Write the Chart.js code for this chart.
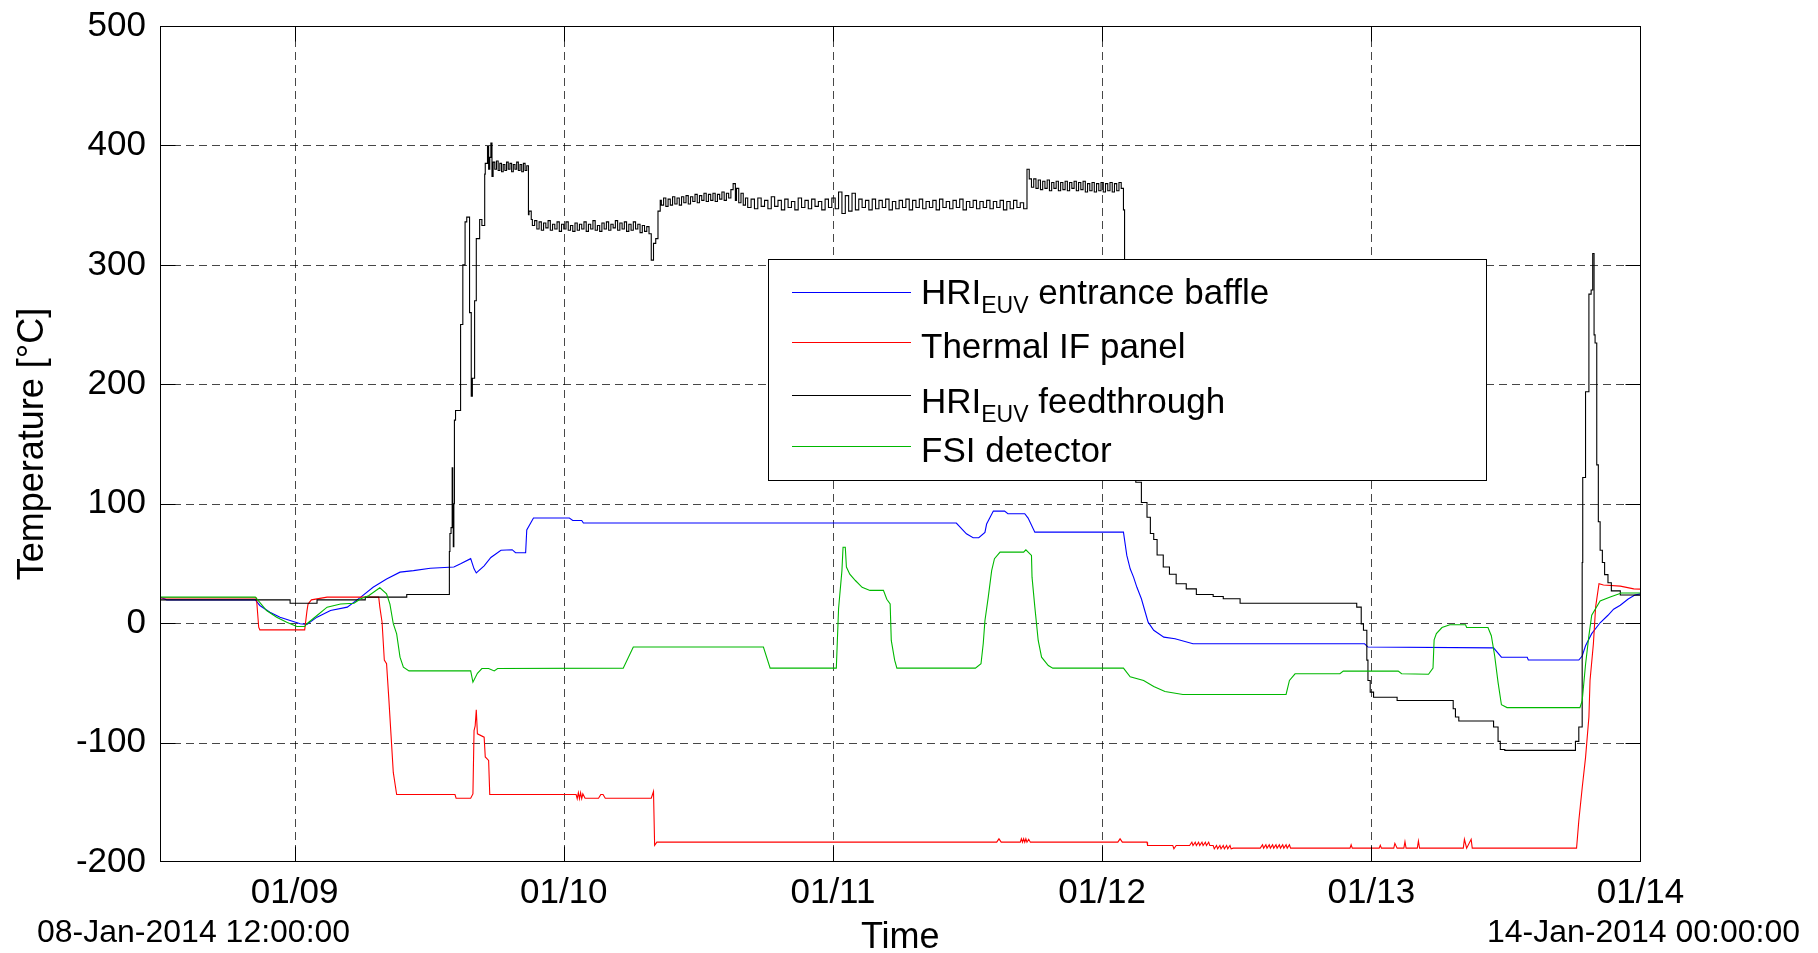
<!DOCTYPE html>
<html>
<head>
<meta charset="utf-8">
<script src="https://cdn.jsdelivr.net/npm/chart.js@4.4.0/dist/chart.umd.min.js"></script>
<style>
html,body{margin:0;padding:0;background:#fff;}
canvas{display:block;}
</style>
</head>
<body>
<canvas id="c" width="1818" height="953"></canvas>
<script>
// ---- axis definitions (hours since 08-Jan-2014 12:00:00) ----
const tickHours  = [12, 36, 60, 84, 108, 132];
const tickLabels = ['01/09', '01/10', '01/11', '01/12', '01/13', '01/14'];
const yTicks     = [-200, -100, 0, 100, 200, 300, 400, 500];
const startLabel = '08-Jan-2014 12:00:00';
const endLabel   = '14-Jan-2014 00:00:00';

// ---- series: [hour, temperature °C] ----
const baffle = [
[0,21.8],[0.6,19.5],[8.5,19.5],[8.9,14.8],[9.8,9.2],[10.7,5],[11.6,2.2],[12.5,-0.5],[13.1,-1],[14.0,5],[15.2,10.6],[16.7,13.4],[17.9,21.8],[19.0,30],[20.2,37],[21.4,42.7],[22.6,44],[24.1,46],[26.2,47],[26.8,49.7],[27.7,54],[28.0,45.5],[28.2,42],[28.9,48],[29.5,55],[30.4,61],[31.4,61.5],[31.7,59],[32.6,59],[32.7,78],[33.3,88],[36.5,88],[36.8,86],[37.6,86],[37.75,83.8],[71.0,83.8],[71.9,74.8],[72.5,71.5],[73.0,71.5],[73.55,76],[73.7,83],[74.3,93.8],[75.3,93.8],[75.6,91.6],[77.1,91.6],[77.4,88],[78.0,76.2],[85.9,76.2],[86.2,56.7],[86.5,45.5],[86.8,38.5],[87.1,30],[87.5,20.4],[87.8,10.6],[88.1,0.8],[88.6,-6],[89.5,-11.7],[90.5,-13],[92.1,-17.3],[107.4,-17.3],[107.7,-20],[118.9,-20.7],[119.6,-28.5],[121.9,-28.5],[122.0,-30.9],[126.5,-30.9],[126.8,-27.5],[127.1,-19],[127.65,-8.8],[128.4,0.3],[129.1,6.6],[129.6,11.7],[130.2,15],[130.9,20.2],[131.5,23.6],[132,24.5]
];

const ifPanel = [
[0,21],[8.6,21],[8.8,-3.4],[8.9,-5.6],[12.9,-5.6],[13.1,10],[13.2,16],[13.5,19.5],[14.9,21.8],[19.5,21.8],[19.6,13.4],[19.8,0.8],[20.0,-31],[20.2,-34],[20.4,-63],[20.6,-94],[20.8,-125],[21.1,-143.5],[26.3,-143.5],[26.4,-146.6],[27.7,-146.6],[27.9,-143],[28.0,-90],[28.1,-86],[28.2,-72.6],[28.3,-92.7],[28.9,-95.5],[29.0,-112],[29.3,-115],[29.4,-143.5],
[37.1,-143.5],[37.2,-147],[37.3,-142],[37.4,-147],[37.5,-142],[37.6,-147],[37.7,-143],[37.9,-146.6],[39.1,-146.6],[39.3,-143.5],[39.5,-143.5],[39.7,-146.6],[43.8,-146.6],[44.0,-141],[44.1,-186],[44.3,-183.4],
[74.6,-183.4],[74.8,-180.6],[75.0,-183.4],[76.7,-183.4],[76.8,-180.6],[76.9,-183.4],[77.0,-180.6],[77.1,-183.4],[77.2,-180.6],[77.3,-183.4],[77.45,-181],[77.6,-183.4],[85.4,-183.4],[85.6,-180.6],[85.8,-183.4],[88.0,-183.4],[88.05,-186.2],[90.3,-186.2],[90.4,-189],[90.6,-186.2],
[91.8,-186.2],[92.0,-183.4],[92.1,-186.2],[92.3,-183.4],[92.4,-186.2],[92.6,-183.4],[92.7,-186.2],[92.9,-183.4],[93.0,-186.2],[93.2,-183.4],[93.3,-186.2],[93.5,-183.4],[93.6,-186.2],
[93.9,-186.2],[94.0,-189],[94.2,-186.2],[94.3,-189],[94.5,-186.2],[94.6,-189],[94.8,-186.2],[94.9,-189],[95.1,-186.2],[95.2,-189],[95.4,-186.2],[95.5,-189],[95.7,-188.4],
[98.1,-188.4],[98.3,-185.6],[98.4,-188.4],[98.6,-185.6],[98.7,-188.4],[98.9,-185.6],[99.0,-188.4],[99.2,-185.6],[99.3,-188.4],[99.5,-185.6],[99.6,-188.4],[99.8,-185.6],[99.9,-188.4],[100.1,-185.6],[100.2,-188.4],[100.4,-185.6],[100.5,-188.4],[100.7,-185.6],[100.8,-188.4],
[106.1,-188.4],[106.2,-185.6],[106.3,-188.4],[108.7,-188.4],[108.8,-186],[108.9,-188.4],[110.0,-188.4],[110.1,-184.4],[110.3,-188.4],[110.9,-188.4],[111.0,-183],[111.1,-188.4],[112.1,-188.4],[112.2,-182.4],[112.3,-188.4],[116.2,-188.4],[116.3,-181],[116.5,-188.4],[116.9,-181],[117.0,-188.4],
[126.3,-188.4],[126.5,-165.4],[126.8,-138],[127.1,-112.6],[127.4,-78.6],[127.5,-48],[127.8,-17.3],[128.0,13.6],[128.3,33],[128.7,32],[130.2,31],[131.4,28.7],[132,28.5]
];

const feedthrough = [
[0,19.5],[11.6,19.5],[11.9,16.7],[14.0,16.7],[14.3,19.5],[18.3,19.5],[18.6,21.8],[22.0,21.8],[22.2,24],[25.8,24],[25.85,60],[25.95,75],[26.05,80],[26.1,130],[26.15,100],[26.2,64],[26.25,100],[26.35,170],[26.6,178],[26.8,178],[27.0,250],[27.2,300],[27.35,336],[27.6,340],[27.75,260],[27.85,190],[28.05,205],[28.2,270],[28.5,322],[28.7,338],[28.95,333],[29.0,376],[29.2,385],[29.3,399],[29.4,380],[29.5,390],[29.6,402],[29.7,374],
[29.85,386],[30.0,380],[30.15,387],[30.3,379],[30.45,385],[30.6,378],[30.75,384],[30.9,379],[31.05,386],[31.2,380],[31.35,385],[31.5,378],[31.65,384],[31.8,380],[31.95,386],[32.1,379],[32.25,384],[32.4,378],[32.55,385],[32.7,379],[32.85,383],[32.9,342],[33.1,345],[33.2,338],
[33.4,333],[33.6,337],[33.8,330],[34.0,336],[34.2,329],[34.4,335],[34.6,331],[34.8,337],[35.0,329],[35.2,334],[35.4,330],[35.6,336],[35.8,328],[36.0,334],[36.2,330],[36.4,336],[36.6,329],[36.8,333],[37.0,328],[37.2,335],[37.4,329],[37.6,334],[37.8,330],[38.0,336],[38.2,328],[38.4,334],[38.6,330],[38.8,337],[39.0,329],[39.2,333],[39.4,328],[39.6,335],[39.8,330],[40.0,336],[40.2,329],[40.4,334],[40.6,331],[40.8,337],[41.0,329],[41.2,335],[41.4,330],[41.6,336],[41.8,328],[42.0,334],[42.2,329],[42.4,336],[42.6,330],[42.8,334],[43.0,327],[43.2,333],[43.4,328],[43.6,332],[43.8,326],[44.0,304],[44.2,318],[44.4,322],[44.6,345],[44.7,354],
[44.9,350],[45.1,356],[45.3,349],[45.5,355],[45.7,350],[45.9,357],[46.1,351],[46.3,356],[46.5,350],[46.7,357],[46.9,352],[47.1,358],[47.3,351],[47.5,357],[47.7,353],[47.9,359],[48.1,352],[48.3,358],[48.5,354],[48.7,360],[48.9,353],[49.1,359],[49.3,354],[49.5,360],[49.7,353],[49.9,359],[50.1,355],[50.3,361],[50.5,354],[50.7,360],[50.9,356],[51.1,363],[51.3,368],[51.4,354],[51.6,364],[51.8,352],[52.0,360],[52.2,350],
[52.4,356],[52.7,348],[53.0,355],[53.3,347],[53.6,356],[53.9,349],[54.2,354],[54.5,347],[54.8,357],[55.1,349],[55.4,354],[55.7,346],[56.0,355],[56.3,348],[56.6,353],[56.9,346],[57.2,356],[57.5,348],[57.8,354],[58.1,347],[58.4,355],[58.7,349],[59.0,353],[59.3,346],[59.6,355],[59.9,348],[60.2,356],[60.5,347],[60.8,361],[61.1,343],[61.4,358],[61.7,345],[62.0,360],[62.3,346],[62.6,355],[62.9,348],[63.2,354],[63.5,346],[63.8,355],[64.1,347],[64.4,354],[64.7,348],[65.0,355],[65.3,346],[65.6,353],[65.9,347],[66.2,354],[66.5,348],[66.8,355],[67.1,346],[67.4,354],[67.7,348],[68.0,355],[68.3,347],[68.6,353],[68.9,348],[69.2,354],[69.5,346],[69.8,355],[70.1,348],[70.4,353],[70.7,347],[71.0,354],[71.3,348],[71.6,355],[71.9,346],[72.2,353],[72.5,348],[72.8,354],[73.1,347],[73.4,353],[73.7,348],[74.0,354],[74.3,347],[74.6,353],[74.9,348],[75.2,354],[75.5,346],[75.8,353],[76.1,347],[76.4,354],[76.7,348],[77.0,352],[77.3,347],[77.5,380],[77.7,372],
[77.9,365],[78.1,372],[78.3,364],[78.5,371],[78.7,363],[78.9,370],[79.1,364],[79.3,371],[79.5,362],[79.7,369],[79.9,364],[80.1,370],[80.3,362],[80.5,369],[80.7,363],[80.9,370],[81.1,362],[81.3,369],[81.5,364],[81.7,370],[81.9,362],[82.1,369],[82.3,363],[82.5,370],[82.7,361],[82.9,368],[83.1,362],[83.3,369],[83.5,361],[83.7,368],[83.9,362],[84.1,369],[84.3,361],[84.5,368],[84.7,362],[84.9,369],[85.1,361],[85.3,368],[85.5,362],[85.7,369],[85.9,364],[86.0,346],[86.1,304],[86.5,240],[87.0,165],[87.5,118],
[88.0,101],[88.3,88.7],[88.6,75],[88.9,70],[89.45,57],[90.0,47],[90.6,41],[91.5,33],[92.4,28.7],[93.9,24],[94.8,22.3],[96.3,20.4],[99.3,16.7],[106.7,16.7],[107.1,13.4],[107.3,-0.6],[107.6,-6],[107.7,-31],[107.9,-48],[108.2,-57.8],[108.9,-62],[110.3,-62],[110.4,-64.8],[115.3,-64.8],[115.5,-71.7],[115.8,-78.6],[116.2,-82],[118.9,-82],[119.3,-87],[119.5,-99],[119.9,-105.8],[126.2,-106.5],[126.5,-99],[126.8,-87],[126.85,50.8],[127.1,122],[127.4,193.8],[127.6,275.5],[127.74,279],[127.8,309.5],[127.86,309.5],[127.95,241.4],[128.1,234.6],[128.24,132.5],[128.4,84.9],[128.6,61],[128.8,50.8],[129.1,40.6],[129.4,33.8],[130.2,27],[131.4,23.6],[132,23.5]
];

const fsiDetector = [
[0,21.8],[8.5,21.8],[9.5,10.6],[10.4,5],[11.3,0.8],[12.2,-2.8],[12.9,-2.8],[13.1,-0.5],[14.0,6.4],[14.9,13.4],[16.1,16],[17.3,16.7],[17.9,20.4],[18.6,23],[19.6,29.6],[20.2,24.6],[20.5,16],[20.8,-0.5],[21.1,-9],[21.4,-28.5],[21.7,-36.8],[22.2,-40],[27.7,-40],[27.9,-49.4],[28.3,-42],[28.7,-38],[29.3,-38],[29.8,-40],[30.1,-38],[41.3,-37.7],[42.2,-20],[53.8,-20],[54.4,-37.7],[60.3,-37.7],[60.5,12],[60.8,44],[60.9,63.6],[61.1,63.6],[61.2,47],[61.5,41],[62.0,35.7],[62.6,30],[63.3,27.4],[64.5,27.4],[64.8,20],[65.1,16],[65.2,-14.5],[65.5,-31],[65.7,-37.7],[72.7,-37.7],[73.2,-34],[73.4,-17],[73.55,2],[73.85,22],[74.15,44],[74.4,54],[74.9,59.5],[77.0,59.5],[77.2,61.4],[77.7,56.7],[77.75,38.5],[78.0,13.4],[78.3,-14.5],[78.6,-28.5],[79.2,-35.5],[79.6,-37.7],[85.9,-37.7],[86.5,-45],[87.7,-48],[88.6,-53],[89.6,-57.2],[91.2,-59.7],[100.4,-59.7],[100.7,-48],[101.2,-42.4],[105.2,-42.4],[105.5,-40.2],[110.4,-40.2],[110.7,-42.4],[113.1,-42.8],[113.5,-37.7],[113.6,-13.9],[113.8,-8.8],[114.3,-3.7],[115.0,-1.3],[116.4,-1.3],[116.5,-3.7],[118.4,-3.7],[118.7,-10.5],[119.0,-27.5],[119.3,-49.6],[119.6,-68.3],[120.1,-70.7],[126.6,-70.7],[126.8,-65],[127.1,-34.6],[127.4,-10.5],[127.65,6.6],[128.4,18.5],[129.3,21.9],[130.3,25.3],[132,25.3]
];

const seriesColors = {baffle:'#0000ff', ifPanel:'#ff0000', feedthrough:'#000000', fsi:'#00b800'};

// ---- rendering ----
const FONT = "'Liberation Sans', Arial, Helvetica, sans-serif";
const toXY = arr => arr.map(p => ({x: p[0], y: p[1]}));

const legendEntries = [
  {color: seriesColors.baffle,      parts: [['HRI','n'],['EUV','s'],[' entrance baffle','n']]},
  {color: seriesColors.ifPanel,     parts: [['Thermal IF panel','n']]},
  {color: seriesColors.feedthrough, parts: [['HRI','n'],['EUV','s'],[' feedthrough','n']]},
  {color: seriesColors.fsi,         parts: [['FSI detector','n']]}
];

const framePlugin = {
  id: 'frame',
  beforeDatasetsDraw(chart) {
    const {ctx, chartArea: a, scales: {x, y}} = chart;
    ctx.save();
    ctx.strokeStyle = 'rgba(0,0,0,0.72)';
    ctx.lineWidth = 1;
    ctx.setLineDash([8, 5]);
    tickHours.forEach(h => {
      const px = Math.round(x.getPixelForValue(h)) + 0.5;
      if (px < a.right - 2) { ctx.beginPath(); ctx.moveTo(px, a.top); ctx.lineTo(px, a.bottom); ctx.stroke(); }
    });
    yTicks.forEach(v => {
      const py = Math.round(y.getPixelForValue(v)) + 0.5;
      if (py > a.top + 2 && py < a.bottom - 2) { ctx.beginPath(); ctx.moveTo(a.left, py); ctx.lineTo(a.right, py); ctx.stroke(); }
    });
    ctx.restore();
  },
  afterDatasetsDraw(chart) {
    const {ctx, chartArea: a, scales: {x, y}} = chart;
    ctx.save();
    ctx.setLineDash([]);
    ctx.strokeStyle = '#000';
    ctx.lineWidth = 1;
    const L = Math.round(a.left) + 0.5, R = Math.round(a.right) - 0.5;
    const T = Math.round(a.top) + 0.5, B = Math.round(a.bottom) - 0.5;
    ctx.strokeRect(L, T, R - L, B - T);
    const tl = 15;
    tickHours.forEach(h => {
      const px = Math.min(R, Math.max(L, Math.round(x.getPixelForValue(h)) + 0.5));
      ctx.beginPath(); ctx.moveTo(px, B); ctx.lineTo(px, B - tl); ctx.moveTo(px, T); ctx.lineTo(px, T + tl); ctx.stroke();
    });
    yTicks.forEach(v => {
      const py = Math.min(B, Math.max(T, Math.round(y.getPixelForValue(v)) + 0.5));
      ctx.beginPath(); ctx.moveTo(L, py); ctx.lineTo(L + tl, py); ctx.moveTo(R, py); ctx.lineTo(R - tl, py); ctx.stroke();
    });

    // legend box
    const lx = 768.5, ly = 259.5, lw = 718, lh = 221;
    ctx.fillStyle = '#fff';
    ctx.fillRect(lx, ly, lw, lh);
    ctx.strokeRect(lx, ly, lw, lh);
    const lineYs = [292.5, 342.5, 395.5, 446.5];
    const baseYs = [303.5, 358, 413, 461.5];
    legendEntries.forEach((e, i) => {
      ctx.strokeStyle = e.color;
      ctx.beginPath(); ctx.moveTo(792, lineYs[i]); ctx.lineTo(911, lineYs[i]); ctx.stroke();
      let tx = 921;
      ctx.fillStyle = '#000';
      ctx.textAlign = 'left';
      ctx.textBaseline = 'alphabetic';
      e.parts.forEach(([s, kind]) => {
        if (kind === 's') {
          ctx.font = '23px ' + FONT;
          ctx.fillText(s, tx, baseYs[i] + 9);
        } else {
          ctx.font = '35px ' + FONT;
          ctx.fillText(s, tx, baseYs[i]);
        }
        tx += ctx.measureText(s).width;
      });
    });

    // date range labels
    ctx.fillStyle = '#000';
    ctx.font = '32px ' + FONT;
    ctx.textBaseline = 'alphabetic';
    ctx.textAlign = 'left';
    ctx.fillText(startLabel, 37, 942);
    ctx.textAlign = 'center';
    ctx.fillText(endLabel, x.getPixelForValue(tickHours[tickHours.length - 1]) + 3, 942);
    ctx.restore();
  }
};

new Chart(document.getElementById('c').getContext('2d'), {
  type: 'line',
  data: {
    datasets: [
      {label: 'HRI EUV entrance baffle', data: toXY(baffle),      borderColor: seriesColors.baffle,      order: 4},
      {label: 'Thermal IF panel',        data: toXY(ifPanel),     borderColor: seriesColors.ifPanel,     order: 3},
      {label: 'HRI EUV feedthrough',     data: toXY(feedthrough), borderColor: seriesColors.feedthrough, order: 2, stepped: 'after'},
      {label: 'FSI detector',            data: toXY(fsiDetector), borderColor: seriesColors.fsi,         order: 1}
    ]
  },
  options: {
    responsive: false,
    animation: false,
    devicePixelRatio: 1,
    layout: {padding: {left: 0, right: 177.5, top: 26, bottom: 0}},
    elements: {point: {radius: 0, hoverRadius: 0}, line: {borderWidth: 1.1, tension: 0, fill: false}},
    plugins: {legend: {display: false}, tooltip: {enabled: false}},
    events: [],
    scales: {
      x: {
        type: 'linear', min: 0, max: 132,
        afterBuildTicks: axis => { axis.ticks = tickHours.map(v => ({value: v})); },
        afterFit: s => { s.height = 91; s.paddingLeft = 0; s.paddingRight = 0; },
        grid: {display: false, drawTicks: false},
        border: {display: false},
        ticks: {
          autoSkip: false, maxRotation: 0, padding: 10, color: '#000',
          font: {family: FONT, size: 35},
          callback: v => { const i = tickHours.indexOf(v); return i >= 0 ? tickLabels[i] : ''; }
        },
        title: {display: true, text: 'Time', color: '#000', font: {family: FONT, size: 36}, padding: {top: 0, bottom: -7}}
      },
      y: {
        type: 'linear', min: -200, max: 500,
        afterBuildTicks: axis => { axis.ticks = yTicks.map(v => ({value: v})); },
        afterFit: s => { s.width = 160; s.paddingTop = 0; s.paddingBottom = 0; },
        grid: {display: false, drawTicks: false},
        border: {display: false},
        ticks: {padding: 14, color: '#000', font: {family: FONT, size: 35}, callback: v => String(v)},
        title: {display: true, text: 'Temperature [°C]', color: '#000', font: {family: FONT, size: 36}, padding: {top: 11, bottom: 0}}
      }
    }
  },
  plugins: [framePlugin]
});
</script>
</body>
</html>
